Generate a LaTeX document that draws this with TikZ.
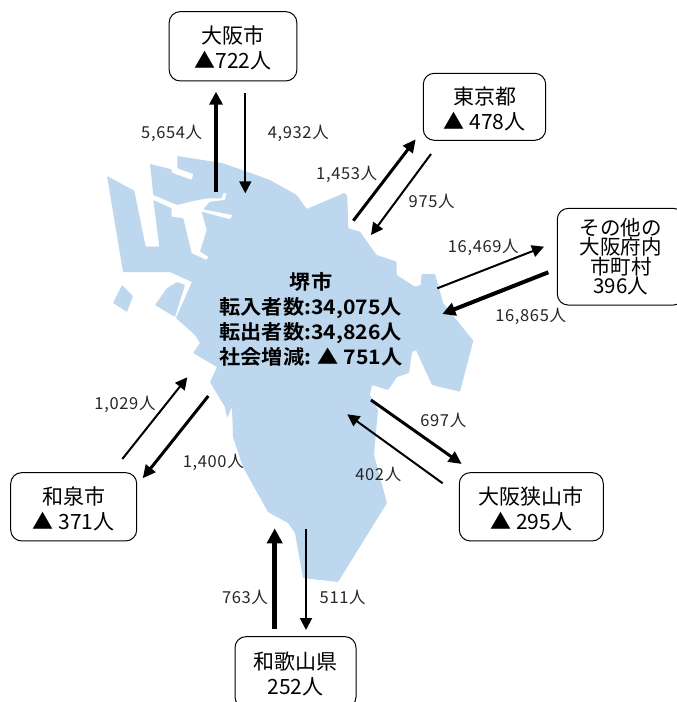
\documentclass[tikz,border=0pt]{standalone}
\usepackage{fontspec}
\usetikzlibrary{arrows.meta}
\setmainfont{Noto Sans CJK JP}
\newfontfamily\cjkbold[FakeStretch=1.06]{Noto Sans CJK JP Bold}
\newfontfamily\flowfont[LetterSpace=4]{Noto Sans CJK JP}
\newcommand\boxlift{\rule{0pt}{21.5pt}}
\definecolor{mapblue}{HTML}{BDD7EE}
\tikzset{
  placebox/.style={draw=black,line width=1pt,rounded corners=11pt,fill=white,align=center,inner sep=0pt,font=\fontsize{21pt}{25pt}\selectfont},
  flowlabel/.style={inner sep=0pt,text=black!85,yshift=-1.5pt,font=\flowfont\fontsize{16.5pt}{18pt}\selectfont},
  thinflow/.style={draw=black,line width=2pt,-{Triangle[length=12pt,width=12pt]}},
  midflow/.style={draw=black,line width=3pt,-{Triangle[length=13pt,width=12pt]}},
  thickflow/.style={draw=black,line width=4pt,-{Triangle[length=13pt,width=13pt]}},
  heavyflow/.style={draw=black,line width=5pt,-{Triangle[length=15pt,width=15pt]}},
  mapshape/.style={fill=mapblue,draw=none,rounded corners=0.8pt}
}
\begin{document}
\begin{tikzpicture}[x=1pt,y=-1pt]
\clip (0,0) rectangle (677,702);
\fill[white] (0,0) rectangle (677,702);
% map
\path[mapshape] (107,176) -- (134.3,190.7) -- (145.7,246.7) -- (159.3,246.7) -- (153.3,200)
 -- (171.7,208.3) -- (171.7,216.7) -- (183.3,218.3) -- (191.7,253.3) -- (206.7,260) -- (208.3,256.7)
 -- (200,251.7) -- (206.7,230) -- (201.7,211.7) -- (230,219.3) -- (232.7,215) -- (203.3,209.3)
 -- (210,201.7) -- (225,200) -- (226.7,193.3) -- (223.3,192.7) -- (221.7,198.3) -- (206.7,198.3)
 -- (190,201.7) -- (177.3,205) -- (153.3,195) -- (150,164) -- (171.7,169.3) -- (171.7,172.7)
 -- (191.7,180) -- (193.3,174) -- (177.3,168.3) -- (177.3,156) -- (223.3,163.3) -- (270,180)
 -- (296.7,195) -- (306.7,209) -- (345,192.7) -- (347.3,196.7) -- (348.3,228.3) -- (360,231.7)
 -- (376.7,255) -- (396.7,261.7) -- (396.7,275) -- (415,286.7) -- (420.7,285) -- (421.7,274)
 -- (435,274) -- (443.3,303.3) -- (473.3,340.7) -- (460,391.7) -- (432,385) -- (416,350)
 -- (412,352) -- (409,373) -- (397,377) -- (388,390) -- (372,385) -- (370,395) -- (378,410)
 -- (374,455) -- (387,503) -- (338,582) -- (303,578) -- (295,533) -- (288,523) -- (268,512)
 -- (243,467) -- (233,437) -- (232,407) -- (227,418) -- (225,407) -- (210,382) -- (217,367)
 -- (193,353) -- (200,343) -- (195,335) -- (176,318) -- (192,282) -- (170,272) -- (123,272) -- cycle;
\path[mapshape] (122,285) -- (133,296) -- (127,312) -- (113,303) -- cycle;
\path[mapshape] (167,288) -- (177,282) -- (185,285) -- (175,317) -- (155,305) -- cycle;
% places
\node[placebox,minimum width=127.7pt,minimum height=69.3pt] (osaka) at (233,46.3) {\boxlift{}大阪市\\▲722人};
\node[placebox,minimum width=122.4pt,minimum height=67pt] (tokyo) at (484.5,106.8) {\boxlift{}東京都\\▲ 478人};
\node[placebox,minimum width=127pt,minimum height=96.7pt,font=\fontsize{20.5pt}{19.3pt}\selectfont] (other) at (620.8,256.7) {その他の\\大阪府内\\市町村\\396人};
\node[placebox,minimum width=144pt,minimum height=68.3pt] (sayama) at (531.3,506.8) {\boxlift{}大阪狭山市\\▲ 295人};
\node[placebox,minimum width=126pt,minimum height=68.3pt] (izumi) at (73.7,506.8) {\boxlift{}和泉市\\▲ 371人};
\node[placebox,minimum width=121pt,minimum height=71.3pt] (wakayama) at (295.5,672.3) {\boxlift{}和歌山県\\252人};
% free ends of the flows
\coordinate (osakaOutS) at (216,192.3);   \coordinate (osakaOutE) at (216,91.7);
\coordinate (osakaInS) at (245.3,93);     \coordinate (osakaInE) at (245.3,193.3);
\coordinate (tokyoOutS) at (353.3,220.7); \coordinate (tokyoOutE) at (415.7,139.3);
\coordinate (tokyoInS) at (431,154);      \coordinate (tokyoInE) at (371,235);
\coordinate (otherOutS) at (437.3,288.3); \coordinate (otherOutE) at (544,246.7);
\coordinate (otherInS) at (548.3,272.3);  \coordinate (otherInE) at (442.3,314);
\coordinate (sayamaOutS) at (371,400);    \coordinate (sayamaOutE) at (461.7,464);
\coordinate (sayamaInS) at (442.7,483.3); \coordinate (sayamaInE) at (347.3,414.3);
\coordinate (izumiInS) at (122.3,459);    \coordinate (izumiInE) at (187.3,377.3);
\coordinate (izumiOutS) at (208.3,396);   \coordinate (izumiOutE) at (142.7,478.3);
\coordinate (wakaInS) at (274.7,629);     \coordinate (wakaInE) at (274.7,528.3);
\coordinate (wakaOutS) at (306,529);      \coordinate (wakaOutE) at (306,630);
\draw[thickflow] (osakaOutS) -- (osakaOutE);
\draw[thinflow] (osakaInS) -- (osakaInE);
\draw[midflow] (tokyoOutS) -- (tokyoOutE);
\draw[thinflow] (tokyoInS) -- (tokyoInE);
\draw[thinflow] (otherOutS) -- (otherOutE);
\draw[thickflow] (otherInS) -- (otherInE);
\draw[midflow] (sayamaOutS) -- (sayamaOutE);
\draw[thinflow] (sayamaInS) -- (sayamaInE);
\draw[thinflow] (izumiInS) -- (izumiInE);
\draw[midflow] (izumiOutS) -- (izumiOutE);
\draw[heavyflow] (wakaInS) -- (wakaInE);
\draw[thinflow] (wakaOutS) -- (wakaOutE);
% flow labels
\node[flowlabel] (l1) at (171.7,131.7) {5,654人};
\node[flowlabel] (l2) at (298.3,132) {4,932人};
\node[flowlabel] (l3) at (346.7,173) {1,453人};
\node[flowlabel] (l4) at (431.7,200) {975人};
\node[flowlabel] (l5) at (483.3,245.7) {16,469人};
\node[flowlabel] (l6) at (530.7,315) {16,865人};
\node[flowlabel] (l7) at (443.3,419.3) {697人};
\node[flowlabel] (l8) at (378.3,472.7) {402人};
\node[flowlabel] (l9) at (125,403.3) {1,029人};
\node[flowlabel] (l10) at (213.3,461) {1,400人};
\node[flowlabel] (l11) at (245,595.7) {763人};
\node[flowlabel] (l12) at (342.7,595.7) {511人};
% centre
\node[inner sep=0pt,font=\cjkbold\fontsize{20pt}{25pt}\selectfont] (sakai) at (311,321.5) {\begin{tabular}{@{}l@{}}\multicolumn{1}{@{}c@{}}{堺市}\\転入者数:34,075人\\転出者数:34,826人\\社会増減: ▲ 751人\end{tabular}};
\end{tikzpicture}
\end{document}
